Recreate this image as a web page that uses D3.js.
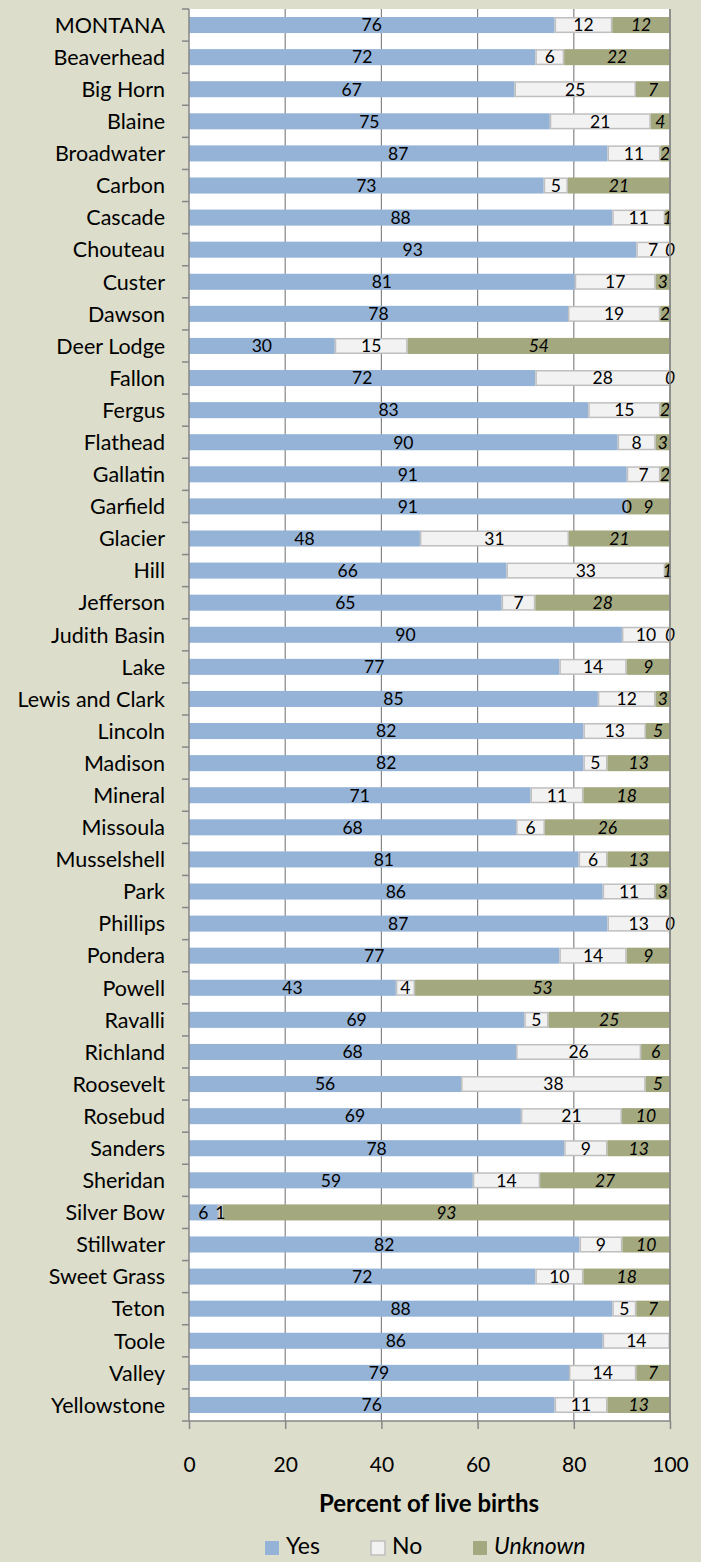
<!DOCTYPE html>
<html><head><meta charset="utf-8">
<script src="https://cdn.jsdelivr.net/npm/d3@7"></script>
<style>
html,body{margin:0;padding:0;background:#DCDDCB;}
svg{display:block;}
</style>
</head><body>
<script>
const categories = ["MONTANA","Beaverhead","Big Horn","Blaine","Broadwater","Carbon","Cascade","Chouteau","Custer","Dawson","Deer Lodge","Fallon","Fergus","Flathead","Gallatin","Garfield","Glacier","Hill","Jefferson","Judith Basin","Lake","Lewis and Clark","Lincoln","Madison","Mineral","Missoula","Musselshell","Park","Phillips","Pondera","Powell","Ravalli","Richland","Roosevelt","Rosebud","Sanders","Sheridan","Silver Bow","Stillwater","Sweet Grass","Teton","Toole","Valley","Yellowstone"];
const yesValues = [76,72,67,75,87,73,88,93,81,78,30,72,83,90,91,91,48,66,65,90,77,85,82,82,71,68,81,86,87,77,43,69,68,56,69,78,59,6,82,72,88,86,79,76];
const noValues = [12,6,25,21,11,5,11,7,17,19,15,28,15,8,7,0,31,33,7,10,14,12,13,5,11,6,6,11,13,14,4,5,26,38,21,9,14,1,9,10,5,14,14,11];
const unknownValues = [12,22,7,4,2,21,1,0,3,2,54,0,2,3,2,9,21,1,28,0,9,3,5,13,18,26,13,3,0,9,53,25,6,5,10,13,27,93,10,18,7,null,7,13];
const seriesNames = ["Yes","No","Unknown"];
const xTicks = [0,20,40,60,80,100];
const axisTitle = "Percent of live births";

(function(){
const W = 701, H = 1562;
const colors = {Yes:"#95B3D7", No:"#F2F2F2", Unknown:"#A3A87F"};
const FONT = "Lato, 'Open Sans', sans-serif";

const svg = d3.select("body").append("svg").attr("width", W).attr("height", H);
svg.append("rect").attr("width", W).attr("height", H).attr("fill", "#DCDDCB");

const pLeft = 189, pRight = 670, pTop = 9, pBottom = 1421;
const x = d3.scaleLinear().domain([0,100]).range([pLeft,pRight]);
const xFrac = d3.scaleLinear().domain([0,1]).range([pLeft,pRight]);
const y = d3.scaleBand().domain(categories).range([pTop,pBottom]).paddingInner(0.5).paddingOuter(0.25);

svg.append("rect").attr("x", pLeft).attr("y", pTop).attr("width", pRight-pLeft).attr("height", pBottom-pTop).attr("fill", "#FFFFFF");

svg.append("g").selectAll("line").data(xTicks.filter(t=>t>0)).join("line")
  .attr("x1", d=>x(d)).attr("x2", d=>x(d)).attr("y1", pTop).attr("y2", pBottom)
  .attr("stroke", "#868686").attr("stroke-width", 1.2);

const rows = categories.map((c,i)=>({cat:c, Yes:yesValues[i], No:noValues[i], Unknown: unknownValues[i] == null ? 0 : unknownValues[i], unk: unknownValues[i]}));
const stack = d3.stack().keys(seriesNames).offset(d3.stackOffsetExpand);
const series = stack(rows);

const gBars = svg.append("g");
series.forEach(s => {
  const key = s.key;
  const ins = key==="No" ? 0.75 : 0;
  gBars.append("g").selectAll("rect").data(s).join("rect")
    .attr("x", d => xFrac(d[0]) + ins)
    .attr("y", d => y(d.data.cat) + ins)
    .attr("width", d => Math.max(0, xFrac(d[1]) - xFrac(d[0]) - 2*ins))
    .attr("height", y.bandwidth() - 2*ins)
    .attr("fill", colors[key])
    .attr("stroke", key==="No" ? "#BFBFBF" : "none")
    .attr("stroke-width", key==="No" ? 1.5 : 0);
});

const gLab = svg.append("g").attr("font-family", FONT).attr("font-size", 17.5).attr("fill", "#000");
series.forEach(s => {
  const key = s.key;
  const data = s.filter(d => key !== "Unknown" || d.data.unk != null);
  gLab.append("g").selectAll("text").data(data).join("text")
    .attr("x", d => (xFrac(d[0]) + xFrac(d[1]))/2)
    .attr("y", d => y(d.data.cat) + y.bandwidth()/2)
    .attr("dy", "0.36em")
    .attr("text-anchor", "middle")
    .attr("font-style", key==="Unknown" ? "italic" : "normal")
    .text(d => key==="Unknown" ? d.data.unk : d.data[key]);
});

const axisColor = "#868686";
svg.append("line").attr("x1", pLeft).attr("x2", pLeft).attr("y1", pTop).attr("y2", pBottom).attr("stroke", axisColor).attr("stroke-width", 1.5);
svg.append("line").attr("x1", pRight).attr("x2", pRight).attr("y1", pTop).attr("y2", pBottom).attr("stroke", axisColor).attr("stroke-width", 1.5);
svg.append("line").attr("x1", pLeft).attr("x2", pRight).attr("y1", pBottom).attr("y2", pBottom).attr("stroke", axisColor).attr("stroke-width", 1.5);

const bounds = categories.map(c => y(c) - y.step()*y.paddingInner()/2);
bounds.push(pBottom);
svg.append("g").selectAll("line").data(bounds).join("line")
  .attr("x1", pLeft-7).attr("x2", pLeft).attr("y1", d=>d).attr("y2", d=>d)
  .attr("stroke", axisColor).attr("stroke-width", 1.5);

svg.append("g").attr("font-family", FONT).attr("font-size", 21.5).attr("fill", "#000")
  .selectAll("text").data(categories).join("text")
  .attr("x", 165).attr("y", d => y(d) + y.bandwidth()/2).attr("dy", "0.36em")
  .attr("text-anchor", "end").text(d => d);

const xAxis = d3.axisBottom(x).tickValues(xTicks).tickSize(8).tickPadding(28).tickFormat(d3.format("d"));
const gx = svg.append("g").attr("transform", `translate(0,${pBottom})`).call(xAxis);
gx.select(".domain").remove();
gx.selectAll(".tick line").attr("stroke", axisColor).attr("stroke-width", 1.5);
gx.selectAll(".tick text").attr("font-family", FONT).attr("font-size", 21).attr("fill", "#000");

svg.append("text").attr("x", 429).attr("y", 1503).attr("dy", "0.36em").attr("text-anchor", "middle")
  .attr("font-family", FONT).attr("font-weight", "bold").attr("font-size", 24).attr("fill", "#000").text(axisTitle);

const legendX = [265, 371, 473];
const lg = svg.append("g");
seriesNames.forEach((k,i) => {
  lg.append("rect").attr("x", legendX[i]).attr("y", 1541).attr("width", 14).attr("height", 14)
    .attr("fill", colors[k]).attr("stroke", k==="No" ? "#BFBFBF" : "none").attr("stroke-width", 1.5);
  lg.append("text").attr("x", legendX[i] + 21).attr("y", 1546).attr("dy", "0.36em")
    .attr("font-family", FONT).attr("font-size", 23).attr("fill", "#000")
    .attr("font-style", k==="Unknown" ? "italic" : "normal").text(k);
});
})();
</script>
</body></html>
